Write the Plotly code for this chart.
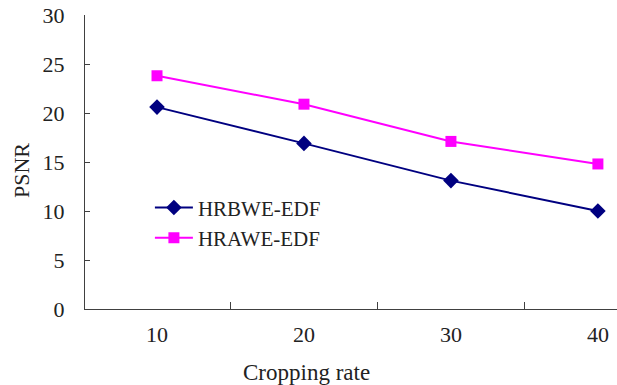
import plotly.graph_objects as go

categories = ["10", "20", "30", "40"]
hrbwe = [20.6, 16.9, 13.1, 10.0]
hrawe = [23.8, 20.9, 17.1, 14.8]
y_ticks = [0, 5, 10, 15, 20, 25, 30]

xpos = list(range(len(categories)))
FONT = "Liberation Serif"
AX = "#404040"
TXT = "#222222"

fig = go.Figure()
fig.add_trace(go.Scatter(
    x=xpos, y=hrbwe, name="HRBWE-EDF", mode="lines+markers",
    line=dict(color="#000080", width=2),
    marker=dict(symbol="diamond", size=12, color="#000080"),
))
fig.add_trace(go.Scatter(
    x=xpos, y=hrawe, name="HRAWE-EDF", mode="lines+markers",
    line=dict(color="#FF00FF", width=2),
    marker=dict(symbol="square", size=11, color="#FF00FF"),
))

fig.update_layout(
    width=617, height=385,
    margin=dict(l=85, r=0, t=15, b=76),
    paper_bgcolor="white", plot_bgcolor="white",
    font=dict(family=FONT, size=21, color=TXT),
    showlegend=True,
    legend=dict(x=0.122, y=0.414, xanchor="left", yanchor="top", itemwidth=38,
                bgcolor="rgba(0,0,0,0)", font=dict(family=FONT, size=21, color=TXT),
                tracegroupgap=0),
    xaxis=dict(
        range=[-0.49, 3.13], tickvals=xpos, ticktext=categories,
        ticks="", showgrid=False, zeroline=False,
        showline=True, linecolor=AX, linewidth=1,
        tickfont=dict(family=FONT, size=22, color=TXT), ticklabelstandoff=6,
        minor=dict(tickvals=[0.5, 1.5, 2.5], ticks="inside", ticklen=7,
                   tickcolor=AX, tickwidth=1, showgrid=False),
    ),
    yaxis=dict(
        range=[0, 30], tickvals=y_ticks,
        ticks="inside", ticklen=5, tickcolor=AX,
        showgrid=False, zeroline=False,
        showline=True, linecolor=AX, linewidth=1,
        tickfont=dict(family=FONT, size=22, color=TXT), ticklabelstandoff=15,
    ),
    annotations=[
        dict(text="Cropping rate", xref="paper", yref="paper",
             x=(306 - 85) / 532, y=-(372 - 309) / 294, xanchor="center", yanchor="middle",
             showarrow=False, font=dict(family=FONT, size=23, color=TXT)),
        dict(text="PSNR", xref="paper", yref="paper",
             x=-(85 - 22) / 532, y=(309 - 171) / 294, xanchor="center", yanchor="middle",
             textangle=-90, showarrow=False, font=dict(family=FONT, size=22, color=TXT)),
    ],
)

fig.write_html("out.html")
